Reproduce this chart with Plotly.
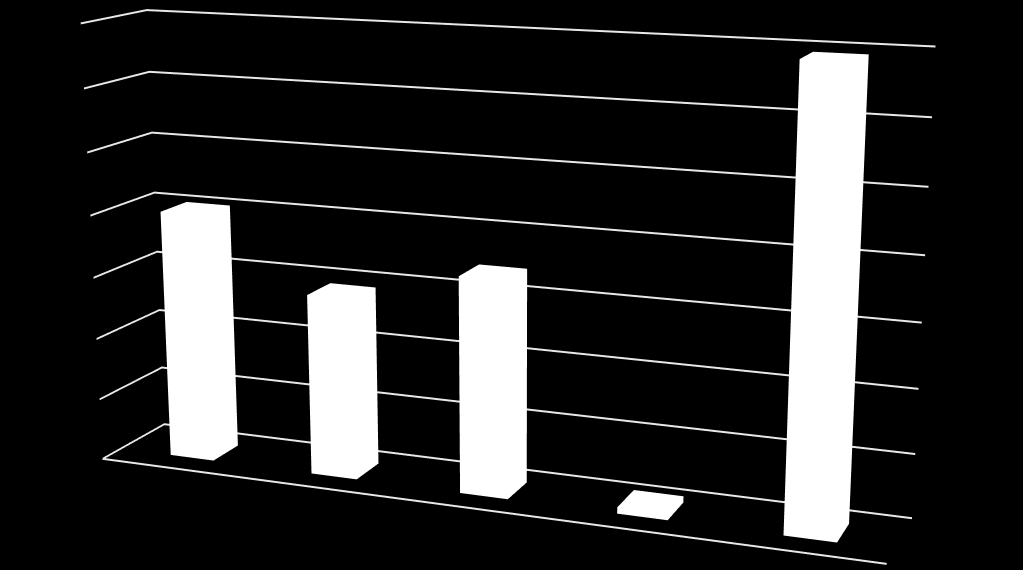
import plotly.graph_objects as go

categories = [0, 1, 2, 3, 4]
values = [4.02, 2.9, 3.42, 0.1, 6.92]
bar_half_x = 0.155
bar_half_y = 0.21
z_ticks = [0, 1, 2, 3, 4, 5, 6, 7]
S = 3
W, H = 1023, 570

xs, ys, zs, ii, jj, kk = [], [], [], [], [], []
quads = [(0,1,2,3),(4,5,6,7),(0,1,5,4),(1,2,6,5),(2,3,7,6),(3,0,4,7)]
for c, v in zip(categories, values):
    b = len(xs)
    for z in (0, v):
        for dx, dy in ((-1,-1),(1,-1),(1,1),(-1,1)):
            xs.append(c + dx*bar_half_x)
            ys.append(0.5 + dy*bar_half_y)
            zs.append(z)
    for q in quads:
        ii += [b+q[0], b+q[0]]
        jj += [b+q[1], b+q[2]]
        kk += [b+q[2], b+q[3]]

fig = go.Figure(go.Mesh3d(
    x=xs, y=ys, z=zs, i=ii, j=jj, k=kk, color="white", flatshading=True,
    lighting=dict(ambient=1, diffuse=0, specular=0, roughness=1, fresnel=0),
    hoverinfo="skip", showscale=False))

base = dict(showticklabels=False, ticks="", title="", showgrid=False, zeroline=False,
            showbackground=False, showspikes=False)
fig.update_layout(
    width=W*S, height=H*S, paper_bgcolor="black", margin=dict(l=0, r=0, t=0, b=0),
    showlegend=False,
    scene=dict(
        bgcolor="black",
        xaxis=dict(base, range=[-0.52, 4.48], showline=True, linecolor="#e8e8e8", linewidth=4),
        yaxis=dict(base, range=[0, 1], showline=False),
        zaxis=dict(showticklabels=False, ticks="", title="", showgrid=True, gridcolor="#e8e8e8",
                   gridwidth=4, zeroline=False, showbackground=False, showspikes=False,
                   showline=False, range=[0, 7], tickvals=z_ticks),
        aspectmode="manual", aspectratio=dict(x=1.953, y=0.3, z=1.08),
        camera=dict(eye=dict(x=1.7165, y=-4.332, z=1.117), center=dict(x=0.0465, y=0.018, z=-0.043),
                    up=dict(x=0, y=0, z=1), projection=dict(type="perspective")),
        domain=dict(x=[0, 1], y=[0, 1]),
    ),
)
dx, dy = W*(S-1)/2, H*(S-1)/2
post = (f"document.documentElement.style.overflow='hidden';"
        f"document.body.style.cssText='margin:0;background:black;overflow:hidden;width:{W}px;height:{H}px';"
        f"var g=document.getElementsByClassName('plotly-graph-div')[0];"
        f"g.style.position='absolute';g.style.left='-{dx}px';g.style.top='-{dy}px';")
fig.write_html("out.html", post_script=post)
